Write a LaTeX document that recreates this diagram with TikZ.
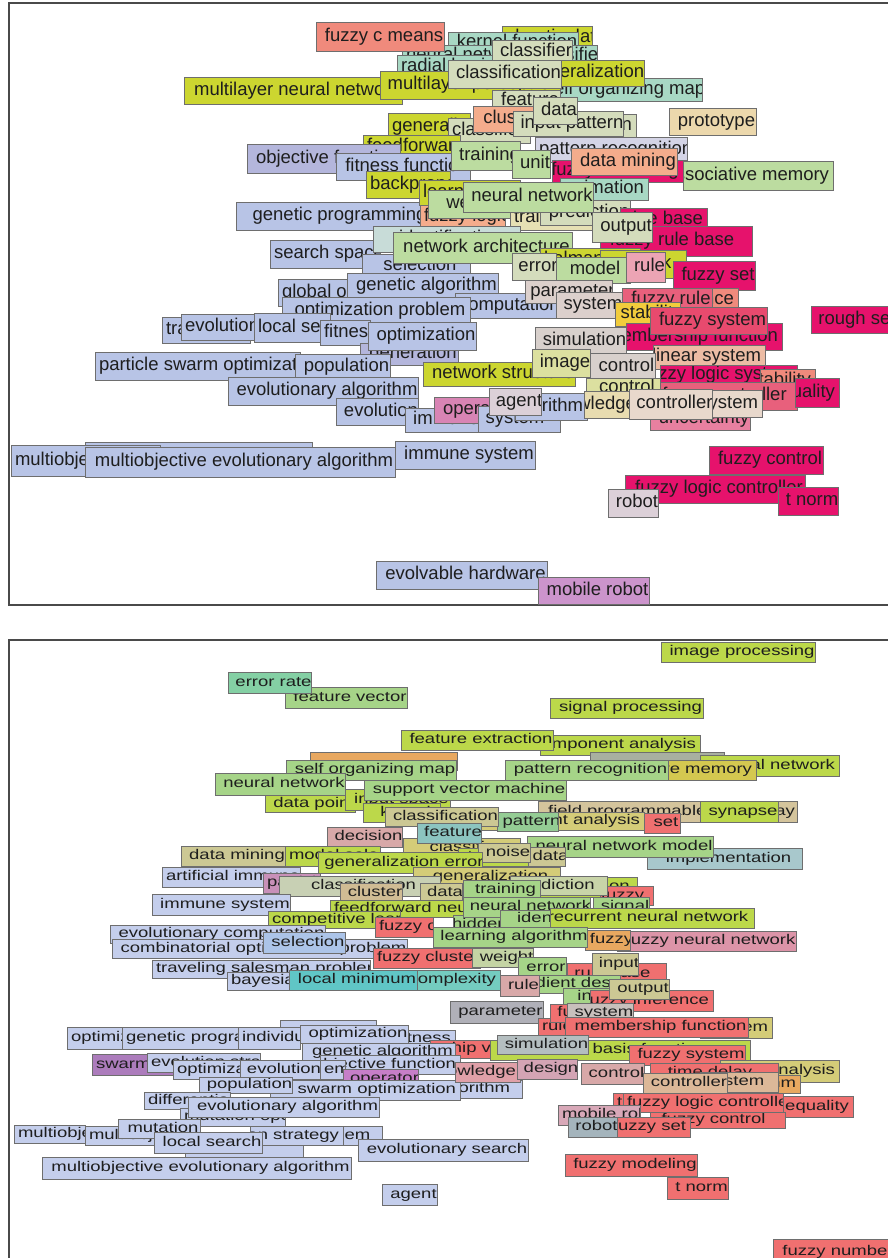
\documentclass[tikz,border=0pt]{standalone}
\usepackage{fontspec}
\newfontfamily\bxfam{Liberation Sans}
\newcommand\bxfont{\bxfam\fontsize{18.5}{20}\selectfont}
% top colours
\definecolor{cSal}{HTML}{F08A7C}\definecolor{cYel}{HTML}{CCD630}\definecolor{cTeal}{HTML}{A8D8C4}
\definecolor{cBeg}{HTML}{D4DCBC}\definecolor{cBeg2}{HTML}{E6E0B4}\definecolor{cLG}{HTML}{BCDCA0}
\definecolor{cLav}{HTML}{B8C4E6}\definecolor{cPur}{HTML}{B4B6DC}\definecolor{cLavG}{HTML}{D4D4E6}
\definecolor{cPch}{HTML}{F4AC8C}\definecolor{cTan}{HTML}{ECD8AC}\definecolor{cMag}{HTML}{E6126C}
\definecolor{cRed}{HTML}{E84A6E}\definecolor{cRed2}{HTML}{E8607C}\definecolor{cRed3}{HTML}{E880A0}
\definecolor{cRose}{HTML}{ECA4B4}\definecolor{cGry}{HTML}{DCD0CC}\definecolor{cSim}{HTML}{D8D0CC}
\definecolor{cImg}{HTML}{DCE0A0}\definecolor{cNon}{HTML}{ECBCA4}\definecolor{cNon2}{HTML}{E8D8CC}
\definecolor{cKnow}{HTML}{E8DCB0}\definecolor{cStab}{HTML}{F2CC3C}\definecolor{cOpr}{HTML}{D884B4}
\definecolor{cMob}{HTML}{CC94CC}\definecolor{cRob}{HTML}{DCD0D8}\definecolor{cTealG}{HTML}{C8DCD8}
% bottom colours
\definecolor{bLav}{HTML}{C4CEEC}\definecolor{bSal}{HTML}{F07070}\definecolor{bLime}{HTML}{BCD84A}
\definecolor{bGrn}{HTML}{A6D488}\definecolor{bTeal}{HTML}{84D0A4}\definecolor{bOl}{HTML}{CCC894}
\definecolor{bOlY}{HTML}{D4C850}\definecolor{bOlY2}{HTML}{D4CC78}\definecolor{bTan}{HTML}{D0BC94}
\definecolor{bTan2}{HTML}{D4C49C}\definecolor{bTan3}{HTML}{DCB898}\definecolor{bPink}{HTML}{D8A8A8}
\definecolor{bPink2}{HTML}{E0A0A8}\definecolor{bPink3}{HTML}{D4A4B4}\definecolor{bPink4}{HTML}{D8A8B8}
\definecolor{bFnn}{HTML}{DC94A8}\definecolor{bGray}{HTML}{B0B0B8}\definecolor{bGray2}{HTML}{A8B0A0}
\definecolor{bGry2}{HTML}{C8C0BC}\definecolor{bSim}{HTML}{B4BEC0}\definecolor{bFeat}{HTML}{8CC4C0}
\definecolor{bFeat2}{HTML}{94CC94}\definecolor{bImpl}{HTML}{A8C8CC}\definecolor{bCyan}{HTML}{60C6C6}
\definecolor{bCyan2}{HTML}{74CCC0}\definecolor{bPur}{HTML}{AC7CBC}\definecolor{bPurP}{HTML}{C890B8}
\definecolor{bOpr}{HTML}{C67EC8}\definecolor{bOrg}{HTML}{E8A860}\definecolor{bSel}{HTML}{ACC4E8}
\definecolor{bRob}{HTML}{A4B4BC}\definecolor{bBeg}{HTML}{C8D0B4}\definecolor{bOl2}{HTML}{C8D4A8}
\definecolor{bOl4}{HTML}{C4D4A4}
\definecolor{boxline}{HTML}{6E6E6E}\definecolor{txtc}{HTML}{1E1E1E}\definecolor{framec}{HTML}{4A4A4A}
\newcounter{bxn}
\tikzset{
  wbox/.style={draw=boxline, line width=0.8pt, anchor=north west, inner sep=0pt, outer sep=0pt},
  tA/.style={font=\bxfont, text=txtc, inner sep=0pt, text height=13.4pt, text depth=3.9pt},
  tB/.style={font=\bxfont, text=txtc, inner sep=0pt, text height=10.2pt, text depth=3pt},
  lt/.style={anchor=west, at={([xshift=4pt]path picture bounding box.west)}},
  rt/.style={anchor=east, at={([xshift=-4pt]path picture bounding box.east)}},
  frame/.style={draw=framec, line width=2.2pt}
}
\newcommand\wbx[8]{\stepcounter{bxn}%
  \node[wbox, fill=#7, minimum width={(#5-#3)*1pt}, minimum height={(#6-#4)*1pt},
    path picture={\node[#1,#2] (t\thebxn) {#8};}] (b\thebxn) at (#3,#4) {};}
\newcommand\tbx[6]{\wbx{tA}{lt}{#1}{#2}{#3}{#4}{#5}{#6}}
\newcommand\tbxr[6]{\wbx{tA}{rt}{#1}{#2}{#3}{#4}{#5}{#6}}
\newcommand\bbx[6]{\wbx{tB}{lt}{#1}{#2}{#3}{#4}{#5}{\scalebox{1}[0.76]{#6}}}
\newcommand\bbxr[6]{\wbx{tB}{rt}{#1}{#2}{#3}{#4}{#5}{\scalebox{1}[0.76]{#6}}}
\begin{document}
\begin{tikzpicture}[x=1pt,y=-1pt]
\path[use as bounding box, fill=white] (0,0) rectangle (888,1258);
\clip (0,0) rectangle (888,1258);
\draw[frame] (9,3) rectangle (900,605);
\draw[frame] (9,640) rectangle (900,1270);
% ================= TOP PANEL =================
\tbx{502}{26}{592}{50}{cYel}{chaotic data}
\tbx{448}{32}{578}{54}{cTeal}{kernel function}
\tbx{402}{45}{597}{66}{cTeal}{neural network classifier}
\tbx{397}{55}{500}{78}{cTeal}{radial basis function}
\tbx{492}{40}{572}{63}{cBeg}{classifier}
\tbx{540}{78}{702}{101}{cTeal}{self organizing map}
\tbx{521}{60}{644}{86}{cYel}{generalization}
\tbx{184}{77}{402}{104}{cYel}{multilayer neural network}
\tbx{380}{71}{560}{99}{cYel}{multilayer perceptron}
\tbx{448}{60}{561}{88}{cBeg}{classification}
\tbx{316}{22}{444}{51}{cSal}{fuzzy c means}
\tbx{492}{90}{560}{112}{cBeg}{feature}
\tbx{388}{113}{470}{140}{cYel}{generalization}
\tbx{448}{118}{530}{143}{cBeg}{classification}
\tbx{473}{106}{540}{132}{cPch}{cluster}
\tbxr{560}{114}{636}{138}{cBeg}{classification}
\tbx{513}{111}{623}{136}{cBeg}{input pattern}
\tbx{533}{97}{577}{124}{cBeg}{data}
\tbx{669}{108}{756}{135}{cTan}{prototype}
\tbx{363}{135}{460}{158}{cYel}{feedforward}
\tbx{535}{137}{687}{162}{cLavG}{pattern recognition}
\tbx{247}{144}{400}{173}{cPur}{objective function}
\tbx{336}{153}{470}{180}{cLav}{fitness function}
\tbx{451}{141}{520}{170}{cLG}{training}
\tbx{512}{150}{550}{178}{cLG}{unit}
\tbx{566}{170}{613}{198}{cBeg}{input}
\tbxr{552}{160}{686}{182}{cMag}{fuzzy clustering}
\tbx{571}{148}{677}{175}{cPch}{data mining}
\tbxr{683}{161}{833}{190}{cLG}{associative memory}
\tbx{236}{202}{435}{230}{cLav}{genetic programming}
\tbx{366}{171}{450}{198}{cYel}{backpropagation}
\tbx{419}{180}{520}{205}{cYel}{learning rate}
\tbx{420}{205}{505}{228}{cPch}{fuzzy logic}
\tbxr{560}{178}{648}{200}{cTeal}{function approximation}
\tbx{428}{190}{510}{218}{cLG}{weight}
\tbx{510}{206}{600}{230}{cBeg2}{training algorithm}
\tbx{540}{200}{630}{225}{cBeg}{prediction}
\tbx{463}{182}{593}{212}{cLG}{neural network}
\tbx{270}{240}{380}{268}{cLav}{search space}
\tbx{362}{254}{470}{278}{cLav}{selection}
\tbx{373}{226}{520}{252}{cTealG}{identification}
\tbx{393}{232}{572}{263}{cLG}{network architecture}
\tbxr{620}{208}{707}{232}{cMag}{knowledge base}
\tbxr{600}{226}{752}{256}{cMag}{fuzzy rule base}
\tbx{592}{212}{652}{242}{cBeg}{output}
\tbx{540}{248}{640}{272}{cYel}{kalman filter}
\tbxr{600}{250}{686}{278}{cYel}{network}
\tbx{552}{257}{630}{283}{cLG}{model}
\tbx{512}{253}{556}{280}{cBeg}{error}
\tbx{626}{252}{665}{282}{cRose}{rule}
\tbx{673}{261}{755}{290}{cMag}{fuzzy set}
\tbx{278}{279}{360}{306}{cLav}{global optimum}
\tbx{347}{273}{498}{298}{cLav}{genetic algorithm}
\tbx{455}{293}{560}{318}{cLav}{computational intelligence}
\tbx{282}{297}{470}{325}{cLav}{optimization problem}
\tbx{525}{280}{612}{303}{cGry}{parameter}
\tbx{556}{292}{622}{318}{cGry}{system}
\tbx{622}{288}{712}{312}{cRed2}{fuzzy rule}
\tbxr{712}{288}{738}{312}{cSal}{inference}
\tbx{615}{302}{680}{326}{cStab}{stability}
\tbxr{626}{323}{782}{350}{cMag}{membership function}
\tbx{650}{307}{767}{334}{cRed}{fuzzy system}
\tbx{811}{306}{895}{333}{cMag}{rough set}
\tbx{535}{327}{626}{355}{cSim}{simulation}
\tbx{162}{317}{250}{343}{cLav}{traveling salesman problem}
\tbx{181}{314}{260}{340}{cLav}{evolutionary computation}
\tbx{254}{313}{330}{342}{cLav}{local search}
\tbx{320}{320}{370}{345}{cLav}{fitness}
\tbx{360}{343}{458}{365}{cPur}{generation}
\tbx{368}{322}{476}{350}{cLav}{optimization}
\tbx{95}{352}{300}{380}{cLav}{particle swarm optimization}
\tbx{295}{354}{390}{379}{cLav}{population}
\tbx{423}{362}{575}{386}{cYel}{network structure}
\tbx{532}{349}{590}{377}{cImg}{image}
\tbxr{653}{345}{765}{369}{cNon}{nonlinear system}
\tbx{590}{353}{655}{381}{cSim}{control}
\tbxr{660}{365}{797}{385}{cMag}{fuzzy logic system}
\tbxr{760}{369}{815}{392}{cSal}{system stability}
\tbxr{660}{382}{797}{410}{cRed2}{fuzzy controller}
\tbxr{795}{378}{839}{407}{cMag}{inequality}
\tbx{228}{377}{418}{405}{cLav}{evolutionary algorithm}
\tbx{336}{398}{418}{425}{cLav}{evolution}
\tbxr{405}{408}{559}{432}{cLav}{immune system}
\tbx{434}{397}{513}{423}{cOpr}{operator}
\tbxr{478}{406}{560}{432}{cLav}{system}
\tbxr{515}{393}{587}{420}{cLav}{algorithm}
\tbx{489}{388}{541}{415}{cRob}{agent}
\tbx{586}{378}{660}{398}{cImg}{control}
\tbxr{584}{391}{640}{418}{cKnow}{knowledge}
\tbx{650}{408}{750}{430}{cRed3}{uncertainty}
\tbx{629}{389}{712}{419}{cNon2}{controller}
\tbxr{712}{390}{762}{417}{cNon2}{system}
\tbx{85}{442}{312}{460}{cLav}{}
\tbx{11}{445}{160}{476}{cLav}{multiobjective optimization}
\tbx{85}{447}{395}{477}{cLav}{multiobjective evolutionary algorithm}
\tbx{395}{441}{535}{469}{cLav}{immune system}
\tbx{709}{446}{823}{474}{cMag}{fuzzy control}
\tbx{625}{475}{805}{503}{cMag}{fuzzy logic controller}
\tbx{778}{487}{838}{515}{cMag}{t norm}
\tbx{608}{489}{658}{517}{cRob}{robot}
\tbx{376}{561}{547}{589}{cLav}{evolvable hardware}
\tbx{538}{577}{649}{604}{cMob}{mobile robot}
% ================= BOTTOM PANEL =================
\bbx{661}{642}{815}{662}{bLime}{image processing}
\bbx{285}{687}{407}{708}{bGrn}{feature vector}
\bbx{228}{672}{311}{693}{bTeal}{error rate}
\bbx{550}{698}{703}{718}{bLime}{signal processing}
\bbxr{540}{735}{700}{755}{bLime}{principal component analysis}
\bbx{401}{730}{553}{750}{bLime}{feature extraction}
\bbx{310}{752}{457}{770}{bOrg}{}
\bbx{590}{752}{724}{770}{bGray2}{}
\bbxr{700}{755}{839}{776}{bLime}{cellular neural network}
\bbxr{644}{760}{756}{780}{bOlY}{associative memory}
\bbx{505}{760}{668}{780}{bGrn}{pattern recognition}
\bbx{286}{760}{456}{780}{bGrn}{self organizing map}
\bbx{215}{773}{345}{795}{bGrn}{neural network}
\bbx{265}{795}{355}{812}{bLime}{data point}
\bbx{345}{789}{450}{810}{bLime}{input space}
\bbx{363}{803}{440}{822}{bLime}{kernel}
\bbx{364}{780}{566}{800}{bGrn}{support vector machine}
\bbx{538}{801}{797}{822}{bTan2}{field programmable gate array}
\bbx{700}{801}{778}{822}{bLime}{synapse}
\bbxr{460}{812}{644}{830}{bOlY2}{independent component analysis}
\bbx{497}{812}{558}{831}{bFeat2}{pattern}
\bbx{644}{813}{680}{833}{bSal}{set}
\bbx{385}{807}{498}{826}{bOl}{classification}
\bbx{403}{838}{520}{858}{bOlY2}{classifier}
\bbx{327}{827}{402}{847}{bPink}{decision}
\bbx{417}{823}{481}{843}{bFeat}{feature}
\bbx{458}{848}{530}{866}{bLime}{training}
\bbx{647}{848}{802}{869}{bImpl}{implementation}
\bbx{527}{836}{713}{857}{bGrn}{neural network model}
\bbx{528}{847}{565}{866}{bOl}{data}
\bbx{478}{843}{530}{862}{bOl}{noise}
\bbx{181}{846}{285}{866}{bOl}{data mining}
\bbx{285}{846}{380}{866}{bLime}{model selection}
\bbx{318}{852}{482}{873}{bLime}{generalization error}
\bbx{162}{867}{300}{887}{bLav}{artificial immune system}
\bbx{263}{873}{320}{893}{bPurP}{particle swarm}
\bbx{413}{867}{560}{886}{bOlY2}{generalization}
\bbxr{540}{877}{637}{897}{bLime}{recognition}
\bbxr{600}{886}{653}{905}{bSal}{fuzzy}
\bbxr{510}{876}{607}{895}{bOl2}{prediction}
\bbx{279}{876}{440}{896}{bBeg}{classification}
\bbx{340}{883}{402}{903}{bTan}{cluster}
\bbx{420}{883}{462}{903}{bOl}{data}
\bbx{463}{880}{540}{900}{bGrn}{training}
\bbx{330}{900}{470}{917}{bLime}{feedforward neural network}
\bbxr{453}{915}{560}{935}{bGrn}{hidden layer}
\bbx{463}{897}{590}{917}{bGrn}{neural network}
\bbx{593}{897}{649}{917}{bGrn}{signal}
\bbx{152}{894}{290}{915}{bLav}{immune system}
\bbx{268}{911}{400}{928}{bLime}{competitive learning}
\bbxr{500}{910}{645}{928}{bGrn}{identification}
\bbxr{550}{908}{754}{928}{bLime}{recurrent neural network}
\bbx{617}{931}{796}{951}{bFnn}{fuzzy neural network}
\bbx{375}{917}{433}{937}{bSal}{fuzzy c means}
\bbx{585}{930}{630}{950}{bOrg}{fuzzy}
\bbx{433}{927}{587}{947}{bGrn}{learning algorithm}
\bbx{110}{925}{325}{943}{bLav}{evolutionary computation}
\bbx{112}{939}{407}{958}{bLav}{combinatorial optimization problem}
\bbx{263}{932}{345}{953}{bSel}{selection}
\bbx{373}{948}{480}{968}{bSal}{fuzzy clustering}
\bbx{472}{948}{533}{967}{bOl4}{weight}
\bbx{152}{960}{370}{978}{bLav}{traveling salesman problem}
\bbx{227}{972}{300}{990}{bLav}{bayesian network}
\bbx{289}{970}{417}{990}{bCyan}{local minimum}
\bbxr{417}{970}{500}{990}{bCyan2}{complexity}
\bbxr{567}{963}{666}{985}{bSal}{rule base}
\bbx{518}{957}{566}{978}{bGrn}{error}
\bbx{592}{953}{638}{975}{bOl}{input}
\bbx{505}{975}{620}{993}{bGrn}{gradient descent}
\bbx{500}{975}{539}{996}{bPink}{rule}
\bbxr{563}{988}{640}{1005}{bGrn}{input}
\bbxr{590}{990}{713}{1011}{bSal}{fuzzy inference}
\bbx{609}{979}{669}{999}{bOl}{output}
\bbx{450}{1001}{543}{1023}{bGray}{parameter}
\bbx{538}{1018}{600}{1035}{bSal}{rule base}
\bbx{550}{1004}{600}{1022}{bSal}{fuzzy}
\bbx{567}{1003}{633}{1023}{bGry2}{system}
\bbxr{700}{1017}{772}{1038}{bOlY2}{nonlinear system}
\bbx{565}{1017}{748}{1037}{bSal}{membership function}
% left cluster bottom
\bbx{280}{1020}{376}{1032}{bLav}{}
\bbx{67}{1027}{122}{1049}{bLav}{optimization}
\bbx{122}{1027}{238}{1049}{bLav}{genetic programming}
\bbx{238}{1027}{300}{1049}{bLav}{individual}
\bbx{300}{1025}{408}{1043}{bLav}{optimization}
\bbxr{408}{1030}{455}{1047}{bLav}{robustness}
\bbxr{430}{1040}{530}{1058}{bSal}{membership value}
\bbx{302}{1043}{455}{1060}{bLav}{genetic algorithm}
\bbx{490}{1040}{750}{1060}{bLime}{radial basis function}
\bbx{497}{1035}{588}{1054}{bSim}{simulation}
\bbx{629}{1045}{745}{1065}{bSal}{fuzzy system}
\bbx{92}{1054}{200}{1075}{bPur}{swarm intelligence}
\bbx{147}{1053}{260}{1072}{bLav}{evolution strategy}
\bbx{173}{1060}{240}{1079}{bLav}{optimization}
\bbx{240}{1060}{320}{1079}{bLav}{evolution}
\bbxr{320}{1055}{460}{1074}{bLav}{objective function}
\bbx{320}{1060}{345}{1079}{bLav}{emergence}
\bbxr{430}{1080}{522}{1098}{bLav}{algorithm}
\bbx{343}{1069}{418}{1089}{bOpr}{operator}
\bbxr{270}{1080}{460}{1100}{bLav}{particle swarm optimization}
\bbx{199}{1077}{292}{1093}{bLav}{population}
\bbxr{455}{1062}{520}{1082}{bPink2}{knowledge}
\bbx{517}{1059}{577}{1079}{bPink3}{design}
\bbx{581}{1063}{644}{1084}{bPink}{control}
\bbxr{720}{1060}{839}{1082}{bOlY2}{stability analysis}
\bbxr{650}{1063}{778}{1082}{bSal}{time delay}
\bbxr{760}{1075}{800}{1093}{bOrg}{algorithm}
\bbx{672}{1087}{740}{1100}{bTan3}{stability}
\bbxr{700}{1072}{778}{1092}{bTan3}{system}
\bbx{643}{1073}{727}{1093}{bTan3}{controller}
\bbx{613}{1093}{680}{1112}{bSal}{t conorm}
\bbx{623}{1093}{783}{1112}{bSal}{fuzzy logic controller}
\bbxr{783}{1096}{853}{1117}{bSal}{inequality}
\bbxr{650}{1112}{785}{1128}{bSal}{fuzzy control}
\bbx{558}{1105}{640}{1125}{bPink4}{mobile robot}
\bbx{568}{1117}{617}{1137}{bRob}{robot}
\bbxr{617}{1117}{690}{1137}{bSal}{fuzzy set}
\bbx{144}{1092}{230}{1109}{bLav}{differential evolution}
\bbx{180}{1108}{285}{1126}{bLav}{mutation operator}
\bbx{188}{1097}{379}{1117}{bLav}{evolutionary algorithm}
\bbx{14}{1125}{85}{1143}{bLav}{multiobjective optimization}
\bbx{85}{1126}{160}{1145}{bLav}{multiobjective}
\bbx{118}{1119}{200}{1138}{bLav}{mutation}
\bbx{185}{1145}{303}{1158}{bLav}{}
\bbxr{300}{1126}{382}{1145}{bLav}{problem}
\bbxr{250}{1126}{343}{1145}{bLav}{evolution strategy}
\bbx{154}{1132}{262}{1153}{bLav}{local search}
\bbx{358}{1139}{528}{1161}{bLav}{evolutionary search}
\bbx{42}{1157}{351}{1179}{bLav}{multiobjective evolutionary algorithm}
\bbx{382}{1184}{437}{1205}{bLav}{agent}
\bbx{565}{1154}{697}{1176}{bSal}{fuzzy modeling}
\bbx{667}{1177}{728}{1199}{bSal}{t norm}
\bbx{773}{1239}{895}{1265}{bSal}{fuzzy number}
\end{tikzpicture}
\end{document}
